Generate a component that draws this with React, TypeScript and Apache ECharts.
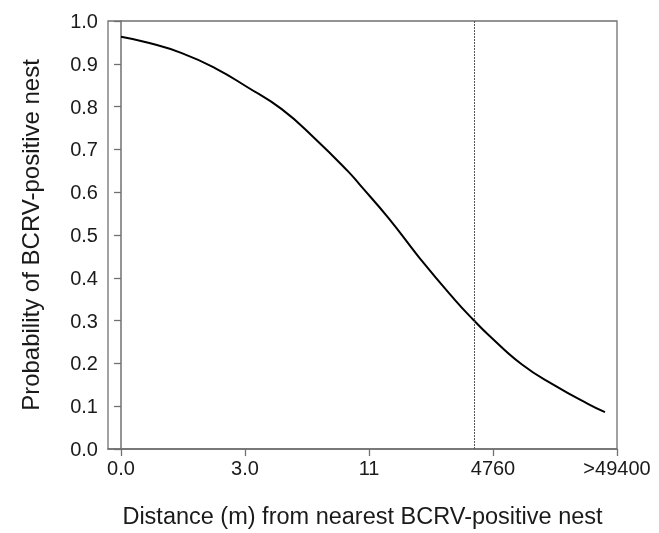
import React, { useEffect, useRef } from "react";
import * as echarts from "echarts";

const tickPositions = [0, 1, 2, 3, 4];
const tickLabels = ["0.0", "3.0", "11", "4760", ">49400"];
const curveX = [0, 0.22, 0.49, 0.758, 1.027, 1.296, 1.565, 1.833, 1.927, 2.156, 2.425, 2.694, 2.841, 2.962, 3.231, 3.5, 3.769, 3.903];
const curveY = [0.963, 0.949, 0.925, 0.89, 0.844, 0.794, 0.725, 0.648, 0.617, 0.54, 0.44, 0.348, 0.302, 0.267, 0.198, 0.148, 0.105, 0.086];
const cutoffX = [2.847];

export default function App() {
  const ref = useRef<HTMLDivElement>(null);
  useEffect(() => {
    const chart = echarts.init(ref.current!, null, { renderer: "svg" });
    const font = "Liberation Sans, Arial, sans-serif";
    chart.setOption({
      animation: false,
      grid: {
        left: 108,
        top: 21,
        right: 42,
        bottom: 79,
        show: true,
        borderColor: "#707070",
        borderWidth: 1.3,
      },
      xAxis: {
        type: "value",
        min: -0.105,
        max: 4,
        name: "Distance (m) from nearest BCRV-positive nest",
        nameLocation: "middle",
        nameGap: 55,
        nameTextStyle: { fontFamily: font, fontSize: 23.5, color: "#1a1a1a" },
        axisLine: { show: true, lineStyle: { color: "#707070", width: 1.5 } },
        axisTick: { show: true, length: 7, customValues: tickPositions, lineStyle: { color: "#707070", width: 1.3 } },
        axisLabel: {
          customValues: tickPositions,
          margin: 9,
          fontFamily: font,
          fontSize: 20,
          color: "#1a1a1a",
          formatter: (v: number) => tickLabels[Math.round(v)] ?? "",
        },
        splitLine: { show: false },
      },
      yAxis: {
        type: "value",
        min: 0,
        max: 1,
        interval: 0.1,
        name: "Probability of BCRV-positive nest",
        nameLocation: "middle",
        nameGap: 66,
        nameTextStyle: { fontFamily: font, fontSize: 24, color: "#1a1a1a" },
        axisLine: { show: true, lineStyle: { color: "#707070", width: 1.5 } },
        axisTick: { show: true, length: 7, lineStyle: { color: "#707070", width: 1.3 } },
        axisLabel: {
          margin: 10,
          fontFamily: font,
          fontSize: 20,
          color: "#1a1a1a",
          formatter: (v: number) => v.toFixed(1),
        },
        splitLine: { show: false },
      },
      series: [
        {
          type: "line",
          data: curveX.map((x, i) => [x, curveY[i]]),
          smooth: 0.5,
          showSymbol: false,
          lineStyle: { color: "#000", width: 2 },
          markLine: {
            silent: true,
            symbol: ["none", "none"],
            label: { show: false },
            lineStyle: { color: "#555", type: [2, 1], width: 1 },
            data: cutoffX.map((x) => ({ xAxis: x })),
          },
        },
      ],
    });
    return () => chart.dispose();
  }, []);
  return <div ref={ref} style={{ position: "fixed", left: 0, top: 0, width: 659, height: 533 }} />;
}
